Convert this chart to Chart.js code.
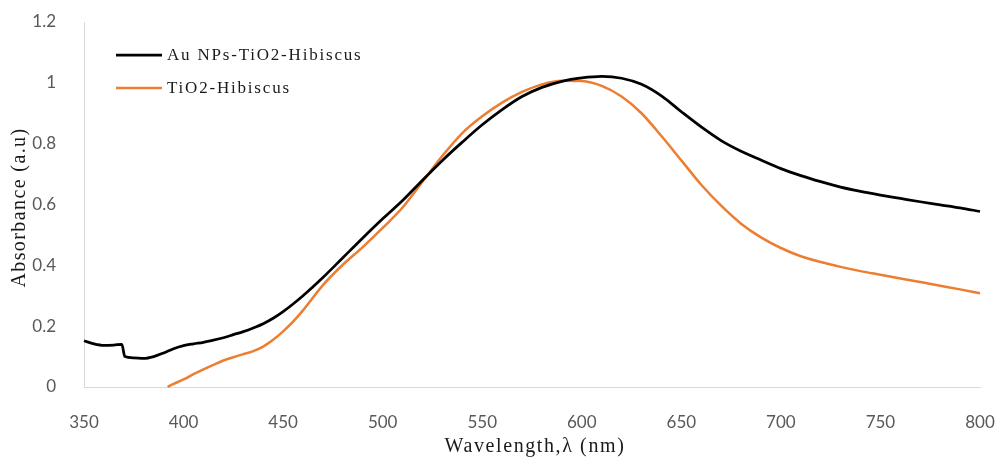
<!DOCTYPE html>
<html>
<head>
<meta charset="utf-8">
<script src="https://cdn.jsdelivr.net/npm/chart.js@4"></script>
<style>
  html, body { margin: 0; padding: 0; background: #fff; }
  #wrap { width: 999px; height: 459px; position: relative; }
</style>
</head>
<body>
<div id="wrap"><canvas id="c" width="999" height="459"></canvas></div>
<script>
// Wavelengths (nm) and absorbance values
const auWavelengths = [350,355,360,365,369,370.5,375,380,385,390,395,400,405,410,415,420,425,430,435,440,445,450,455,460,470,480,490,500,510,520,530,540,550,560,570,580,590,600,610,620,630,640,650,660,670,680,690,700,710,720,730,740,750,760,770,780,790,800];
const auAbsorbance = [0.152,0.142,0.137,0.138,0.140,0.100,0.096,0.094,0.100,0.112,0.126,0.136,0.142,0.147,0.154,0.162,0.172,0.182,0.194,0.208,0.226,0.248,0.273,0.300,0.360,0.425,0.490,0.553,0.613,0.680,0.745,0.805,0.862,0.912,0.955,0.985,1.005,1.016,1.021,1.015,0.995,0.957,0.905,0.855,0.810,0.775,0.746,0.718,0.695,0.675,0.657,0.643,0.631,0.620,0.609,0.599,0.589,0.577];

const tiWavelengths = [392,395,400,405,410,415,420,425,430,435,440,445,450,455,460,470,480,490,500,510,520,530,540,550,560,570,580,590,600,610,620,630,640,650,660,670,680,690,700,710,720,730,740,750,760,770,780,790,800];
const tiAbsorbance = [0.000,0.010,0.025,0.042,0.058,0.073,0.087,0.098,0.108,0.118,0.133,0.155,0.183,0.215,0.252,0.335,0.402,0.460,0.523,0.590,0.675,0.760,0.835,0.890,0.935,0.970,0.995,1.007,1.006,0.990,0.955,0.900,0.825,0.745,0.665,0.596,0.537,0.492,0.457,0.430,0.411,0.395,0.381,0.369,0.357,0.345,0.333,0.321,0.308];

const seriesLabels = ['Au NPs-TiO2-Hibiscus', 'TiO2-Hibiscus'];
const seriesColors = ['#000000', '#ED7D31'];
const xTickValues = [350,400,450,500,550,600,650,700,750,800];
const yTickValues = [0,0.2,0.4,0.6,0.8,1,1.2];
const xTitle = 'Wavelength,λ (nm)';
const yTitle = 'Absorbance (a.u)';

function toPoints(xs, ys) { return xs.map((x, i) => ({x: x, y: ys[i]})); }

const textPlugin = {
  id: 'legendAndTitles',
  afterDraw(chart) {
    const ctx = chart.ctx;
    const area = chart.chartArea;
    const hasLS = 'letterSpacing' in ctx;
    ctx.save();
    ctx.fillStyle = '#1a1a1a';
    ctx.textBaseline = 'middle';
    // legend
    ctx.font = '17px "Liberation Serif"';
    if (hasLS) ctx.letterSpacing = '1.8px';
    ctx.textAlign = 'left';
    const rows = [55, 88];
    chart.data.datasets.forEach((ds, i) => {
      const y = rows[i];
      ctx.strokeStyle = ds.borderColor;
      ctx.lineWidth = ds.borderWidth;
      ctx.beginPath();
      ctx.moveTo(116, y);
      ctx.lineTo(162, y);
      ctx.stroke();
      ctx.fillText(ds.label, 167, y + 1);
    });
    // x axis title
    ctx.font = '20px "Liberation Serif"';
    if (hasLS) ctx.letterSpacing = '1.6px';
    ctx.textAlign = 'center';
    ctx.fillText(xTitle, (area.left + area.right) / 2 + 3, 447);
    // y axis title
    ctx.font = '20px "Liberation Serif"';
    if (hasLS) ctx.letterSpacing = '1.4px';
    ctx.translate(20, (area.top + area.bottom) / 2 + 3);
    ctx.rotate(-Math.PI / 2);
    ctx.fillText(yTitle, 0, 0);
    ctx.restore();
  }
};

new Chart(document.getElementById('c'), {
  type: 'line',
  data: {
    datasets: [
      { label: seriesLabels[0], data: toPoints(auWavelengths, auAbsorbance), borderColor: seriesColors[0], borderWidth: 2.75, pointRadius: 0, cubicInterpolationMode: 'monotone', fill: false },
      { label: seriesLabels[1], data: toPoints(tiWavelengths, tiAbsorbance), borderColor: seriesColors[1], borderWidth: 2.5, pointRadius: 0, cubicInterpolationMode: 'monotone', fill: false }
    ]
  },
  options: {
    responsive: false,
    animation: false,
    clip: false,
    layout: { padding: { top: 22, right: 19, left: 0, bottom: 0 } },
    plugins: { legend: { display: false }, tooltip: { enabled: false } },
    scales: {
      x: {
        type: 'linear',
        min: 350, max: 800,
        afterBuildTicks(scale) { scale.ticks = xTickValues.map(v => ({value: v})); },
        afterFit(scale) { scale.height = 72; scale.paddingLeft = 0; scale.paddingRight = 0; },
        grid: { display: false },
        border: { display: true, color: '#d9d9d9', width: 1 },
        ticks: { padding: 17, color: '#595959', font: { family: 'Lato', size: 17 }, maxRotation: 0, autoSkip: false },
        title: { display: false, text: xTitle }
      },
      y: {
        min: 0, max: 1.2,
        afterBuildTicks(scale) { scale.ticks = yTickValues.map(v => ({value: v})); },
        afterFit(scale) { scale.width = 84; scale.paddingTop = 0; scale.paddingBottom = 0; },
        grid: { display: false },
        border: { display: true, color: '#d9d9d9', width: 1 },
        ticks: { padding: 20, color: '#595959', font: { family: 'Lato', size: 17 }, callback: v => String(Number(v.toFixed(1))) },
        title: { display: false, text: yTitle }
      }
    }
  },
  plugins: [textPlugin]
});
</script>
</body>
</html>
